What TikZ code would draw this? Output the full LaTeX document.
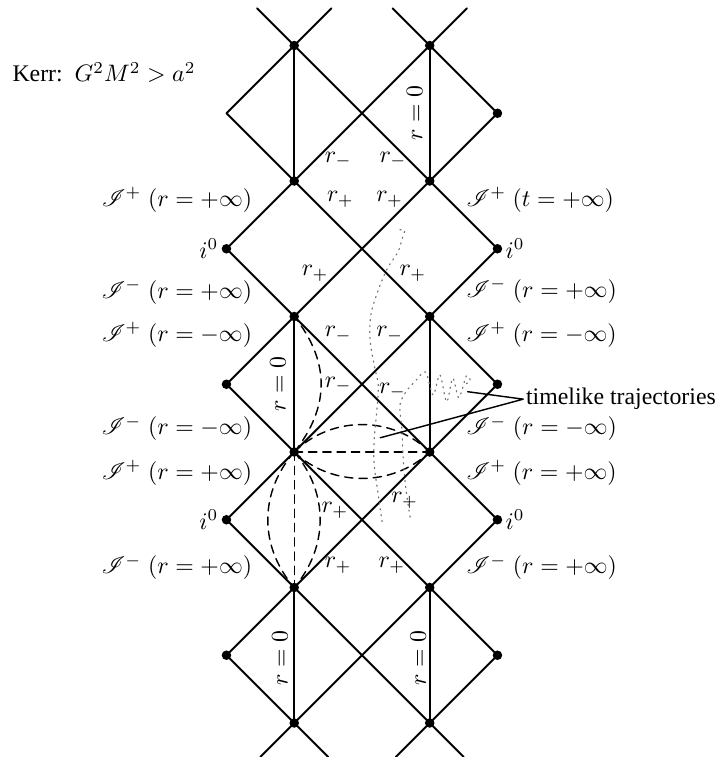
\documentclass[tikz,border=0pt]{standalone}
\usepackage{fontspec}
\setmainfont{Liberation Serif}
\usepackage{mathrsfs}
\newcommand{\scri}[2]{$\mathscr{I}^{#1}\;(#2)$}
\begin{document}
\begin{tikzpicture}[line cap=round,line join=round,every node/.style={inner sep=1pt},
  edge/.style={line width=0.8pt},
  trdash/.style={line width=0.6pt,dash pattern=on 3.5pt off 2.5pt},
  trpath/.style={line width=0.5pt,black!55,dotted},
  blob/.style={circle,fill,inner sep=0pt,minimum size=4pt}]
  \useasboundingbox (-5.343,-4.502) rectangle (5.387,6.672);
  \foreach \a/\b/\c/\d in {-2/5/-0.45/6.55,-2/3/1.55/6.55,-2/1/2/5,-2/-1/2/3,-2/-3/2/1,-1.5/-4.5/2/-1,0.5/-4.5/2/-3} {
    \draw[edge] (\a,\b) -- (\c,\d);
  }
  \foreach \a/\b/\c/\d in {-1.55/6.55/2/3,0.45/6.55/2/5,-2/5/2/1,-2/3/2/-1,-2/1/2/-3,-2/-1/1.5/-4.5,-2/-3/-0.5/-4.5} {
    \draw[edge] (\a,\b) -- (\c,\d);
  }
  \foreach \x in {-1,1} {
    \draw[edge] (\x,4) -- (\x,6);
    \draw[edge] (\x,0) -- (\x,2);
    \draw[edge] (\x,-4) -- (\x,-2);
  }
  \draw[trdash] (-1,0) .. controls (-0.47,0.66) and (-0.47,1.34) .. (-1,2);
  \draw[trdash] (-1,0) -- (1,0);
  \draw[trdash] (-1,0) .. controls (-0.45,0.54) and (0.45,0.54) .. (1,0);
  \draw[trdash] (-1,0) .. controls (-0.45,-0.52) and (0.45,-0.52) .. (1,0);
  \draw[trdash] (-1,0) -- (-1,-2);
  \draw[trdash] (-1,0) .. controls (-1.52,-0.6) and (-1.52,-1.4) .. (-1,-2);
  \draw[trdash] (-1,0) .. controls (-0.49,-0.6) and (-0.49,-1.4) .. (-1,-2);
  \foreach \y in {-4,-2,0,2,4,6} {
    \node[blob] (pl\y) at (-1,\y) {};
    \node[blob] (pr\y) at (1,\y) {};
  }
  \foreach \y in {3,1,-1,-3} \node[blob] (sl\y) at (-2,\y) {};
  \foreach \y in {5,3,1,-1,-3} \node[blob] (sr\y) at (2,\y) {};
  \draw[trpath] plot[smooth] coordinates {(0.56,3.28) (0.63,3.27) (0.6,3.17) (0.53,2.95) (0.38,2.72) (0.24,2.39) (0.13,2.02) (0.12,1.65) (0.18,1.28) (0.24,0.99) (0.22,0.62) (0.18,0.18) (0.18,-0.19) (0.24,-0.63) (0.3,-1.05)};
  \draw[trpath] plot[smooth] coordinates {(0.71,-0.96) (0.65,-0.56) (0.61,-0.12) (0.59,0.32) (0.56,0.69) (0.65,0.89) (0.8,1.06) (0.94,1.18) (1.05,0.84) (1.15,1.14) (1.25,0.74) (1.34,1.09) (1.43,0.8) (1.54,1.12) (1.6,1.05) (1.52,1.0)};
  \node[anchor=west] (kerr) at (-5.2,5.6) {Kerr:\ \ $G^2M^2 > a^2$};
  \node[anchor=east] (jl1) at (-1.58,3.72) {\scri{+}{r=+\infty}};
  \node[anchor=east] (jl2) at (-1.58,2.36) {\scri{-}{r=+\infty}};
  \node[anchor=east] (jl3) at (-1.58,1.73) {\scri{+}{r=-\infty}};
  \node[anchor=east] (jl4) at (-1.58,0.35) {\scri{-}{r=-\infty}};
  \node[anchor=east] (jl5) at (-1.58,-0.31) {\scri{+}{r=+\infty}};
  \node[anchor=east] (jl6) at (-1.58,-1.7) {\scri{-}{r=+\infty}};
  \node[anchor=west] (jr1) at (1.5,3.72) {\scri{+}{t=+\infty}};
  \node[anchor=west] (jr2) at (1.5,2.38) {\scri{-}{r=+\infty}};
  \node[anchor=west] (jr3) at (1.5,1.73) {\scri{+}{r=-\infty}};
  \node[anchor=west] (jr4) at (1.5,0.35) {\scri{-}{r=-\infty}};
  \node[anchor=west] (jr5) at (1.5,-0.31) {\scri{+}{r=+\infty}};
  \node[anchor=west] (jr6) at (1.5,-1.7) {\scri{-}{r=+\infty}};
  \node[anchor=east] (il1) at (sl3.west) {$i^0$};
  \node[anchor=east] (il2) at (sl-1.west) {$i^0$};
  \node[anchor=west] (ir1) at (sr3.east) {$i^0$};
  \node[anchor=west] (ir2) at (sr-1.east) {$i^0$};
  \node (m1) at (-0.35,4.31) {$r_-$};
  \node (m2) at (0.46,4.31) {$r_-$};
  \node (p1) at (-0.32,3.73) {$r_+$};
  \node (p2) at (0.41,3.73) {$r_+$};
  \node (p3) at (-0.69,2.64) {$r_+$};
  \node (p4) at (0.75,2.64) {$r_+$};
  \node (m3) at (-0.35,1.74) {$r_-$};
  \node (m4) at (0.41,1.74) {$r_-$};
  \node (m5) at (-0.35,0.99) {$r_-$};
  \node (m6) at (0.45,0.9) {$r_-$};
  \node (p5) at (-0.4,-0.86) {$r_+$};
  \node (p6) at (0.63,-0.71) {$r_+$};
  \node (p7) at (-0.35,-1.67) {$r_+$};
  \node (p8) at (0.44,-1.67) {$r_+$};
  \node[rotate=90] (z1) at (0.78,5.0) {$r=0$};
  \node[rotate=90] (z2) at (-1.24,1.0) {$r=0$};
  \node[rotate=90] (z3) at (-1.21,-3.04) {$r=0$};
  \node[rotate=90] (z4) at (0.83,-3.04) {$r=0$};
  \node[anchor=west] (tl) at (2.38,0.78) {timelike trajectories};
  \coordinate (ta) at (1.56,0.89);
  \coordinate (tb) at (0.27,0.21);
  \draw[line width=0.6pt] (ta) -- (tl.west) -- (tb);
\end{tikzpicture}
\end{document}
